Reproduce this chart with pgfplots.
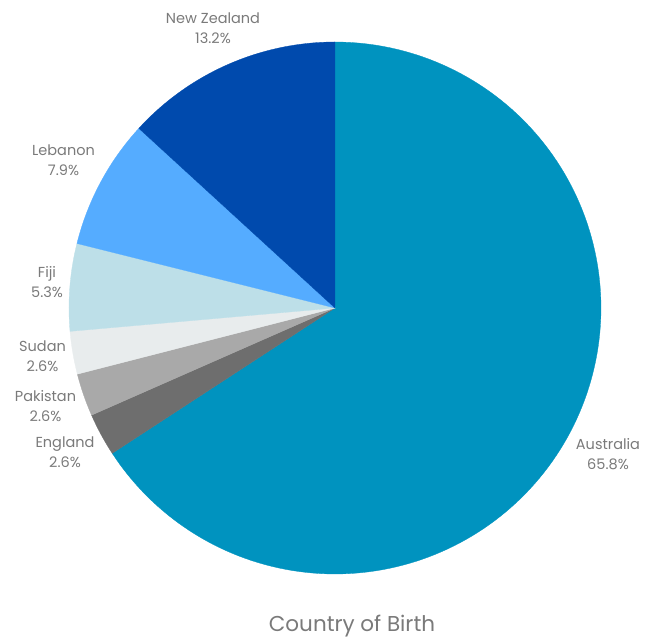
\documentclass[border=0pt]{standalone}
\usepackage{fontspec}
\setmainfont{Poppins}
\usepackage{pgfplots}
\pgfplotsset{compat=1.18}
\definecolor{cAus}{HTML}{0093BF}
\definecolor{cNZ}{HTML}{004AAD}
\definecolor{cLeb}{HTML}{55ACFF}
\definecolor{cFiji}{HTML}{BDDFE8}
\definecolor{cSud}{HTML}{E8ECED}
\definecolor{cPak}{HTML}{A9A9A9}
\definecolor{cEng}{HTML}{6E6E6E}
\definecolor{txt}{HTML}{7A7A7A}
% slice: #1 start angle, #2 end angle (degrees, from 90 going clockwise), #3 colour
\newcommand{\slice}[3]{%
  \addplot[fill=#3, draw=#3, line width=0.3pt, domain=#1:#2, samples=160, variable=\t]
    ({cos(\t)},{sin(\t)}) -- (axis cs:0,0) -- cycle;}
\begin{document}
\begin{tikzpicture}
\useasboundingbox (-335pt,-331pt) rectangle (319pt,308pt);
\begin{axis}[hide axis, x=266pt, y=266pt, xmin=-1, xmax=1, ymin=-1, ymax=1,
  anchor=origin, at={(0pt,0pt)}, clip=false]
% Australia 65.8%
\slice{-146.88}{90}{cAus}
% England 2.6%
\slice{-156.24}{-146.88}{cEng}
% Pakistan 2.6%
\slice{-165.6}{-156.24}{cPak}
% Sudan 2.6%
\slice{-174.96}{-165.6}{cSud}
% Fiji 5.3%
\slice{-194.04}{-174.96}{cFiji}
% Lebanon 7.9%
\slice{-222.48}{-194.04}{cLeb}
% New Zealand 13.2%
\slice{-270}{-222.48}{cNZ}
\end{axis}
\tikzset{lab/.style={align=center, text=txt, font=\fontsize{14.5}{20}\selectfont, inner sep=0pt}}
\node[lab] at (-122pt,280pt) {New Zealand\\13.2\%};
\node[lab] at (-271.5pt,148pt) {Lebanon\\7.9\%};
\node[lab] at (-288pt,26pt) {Fiji\\5.3\%};
\node[lab] at (-292.5pt,-48pt) {Sudan\\2.6\%};
\node[lab] at (-289.5pt,-98pt) {Pakistan\\2.6\%};
\node[lab] at (-270pt,-144pt) {England\\2.6\%};
\node[lab] at (273pt,-146pt) {Australia\\65.8\%};
\node[text=txt, font=\fontsize{21.5}{24}\selectfont, inner sep=0pt] at (17pt,-318pt) {Country of Birth};
\end{tikzpicture}
\end{document}
